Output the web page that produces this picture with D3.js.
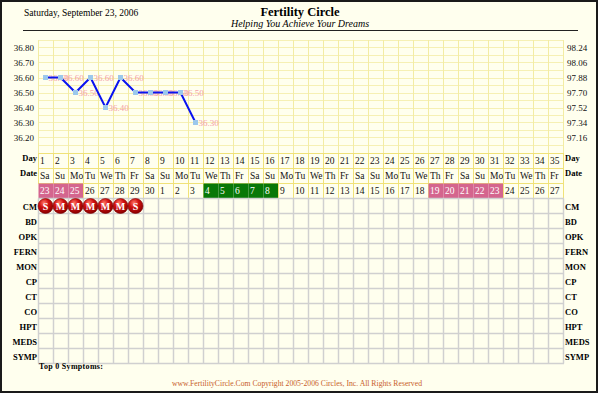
<!DOCTYPE html>
<html>
<head>
<meta charset="utf-8">
<script src="https://cdn.jsdelivr.net/npm/d3@7"></script>
<style>
  body { margin: 0; background: #ffffff; }
  svg text { font-family: "Liberation Serif", "DejaVu Serif", serif; }
</style>
</head>
<body>
<div class="container"></div>
<script>
// chart values
const dayNums = [1,2,3,4,5,6,7,8,9,10,11,12,13,14,15,16,17,18,19,20,21,22,23,24,25,26,27,28,29,30,31,32,33,34,35]
const weekdays = ["Sa","Su","Mo","Tu","We","Th","Fr","Sa","Su","Mo","Tu","We","Th","Fr","Sa","Su","Mo","Tu","We","Th","Fr","Sa","Su","Mo","Tu","We","Th","Fr","Sa","Su","Mo","Tu","We","Th","Fr"]
const dates = [23,24,25,26,27,28,29,30,1,2,3,4,5,6,7,8,9,10,11,12,13,14,15,16,17,18,19,20,21,22,23,24,25,26,27]
const temps = [36.60,36.60,36.50,36.60,36.40,36.60,36.50,36.50,36.50,36.50,36.30]
const tempTicks = [36.20,36.30,36.40,36.50,36.60,36.70,36.80]
const fahrTicks = ["97.16","97.34","97.52","97.70","97.88","98.06","98.24"]
const pinkDays = [1,2,3,27,28,29,30,31]
const greenDays = [12,13,14,15,16]
const rowLabels = ["CM","BD","OPK","FERN","MON","CP","CT","CO","HPT","MEDS","SYMP"]
const cmMarks = ["S","M","M","M","M","M","S"]

const width = 600
const height = 396
const left = 38
const right = 563

const svg = d3.select(".container").append("svg")
  .attr("width", width)
  .attr("height", height)

const defs = svg.append("defs")
const grad = defs.append("radialGradient").attr("id", "ball")
  .attr("cx", "40%").attr("cy", "30%").attr("r", "70%")
grad.append("stop").attr("offset", "0%").attr("stop-color", "#ff7a6a")
grad.append("stop").attr("offset", "45%").attr("stop-color", "#d01010")
grad.append("stop").attr("offset", "100%").attr("stop-color", "#8a0000")

// page frame
svg.append("rect").attr("x", 1).attr("y", 1).attr("width", 596).attr("height", 391)
  .attr("fill", "#ffffee").attr("stroke", "#1a1a1a").attr("stroke-width", 2)

// header
svg.append("text").attr("x", 24).attr("y", 16).attr("font-size", 9.5).text("Saturday, September 23, 2006")
svg.append("text").attr("x", 300).attr("y", 16).attr("text-anchor", "middle")
  .attr("font-size", 12.5).attr("font-weight", "bold").text("Fertility Circle")
svg.append("text").attr("x", 300).attr("y", 27).attr("text-anchor", "middle")
  .attr("font-size", 10).attr("font-style", "italic").text("Helping You Achieve Your Dreams")
svg.append("line").attr("x1", 23).attr("x2", 578).attr("y1", 30.5).attr("y2", 30.5)
  .attr("stroke", "#222").attr("stroke-width", 1)

// scales
const x = d3.scaleBand().domain(dayNums).range([left, right])
const y = d3.scaleLinear().domain([36.10, 36.85]).range([152.5, 40])

// temperature grid
const grid = svg.append("g")
const hLines = d3.range(36.10, 36.86, 0.05)
grid.selectAll(".h").data(hLines).enter().append("line")
  .attr("x1", left).attr("x2", right)
  .attr("y1", d => Math.round(y(d)) + 0.5).attr("y2", d => Math.round(y(d)) + 0.5)
  .attr("stroke", "#f6f0b4").attr("stroke-width", 1)
grid.selectAll(".v").data(dayNums.concat([36])).enter().append("line")
  .attr("x1", d => (d === 36 ? right : x(d)) + 0.5).attr("x2", d => (d === 36 ? right : x(d)) + 0.5)
  .attr("y1", 40).attr("y2", 153)
  .attr("stroke", "#f3eca4").attr("stroke-width", 1)

// axes
const axisL = svg.append("g").attr("transform", `translate(${left - 1},0)`)
  .call(d3.axisLeft(y).tickValues(tempTicks).tickSize(0).tickFormat(d => d.toFixed(2)))
const axisR = svg.append("g").attr("transform", `translate(${right + 1},0)`)
  .call(d3.axisRight(y).tickValues(tempTicks).tickSize(0).tickFormat((d, i) => fahrTicks[i]))
;[axisL, axisR].forEach(a => {
  a.select(".domain").remove()
  a.selectAll("text").attr("font-family", "Liberation Sans, Arial, sans-serif")
    .attr("font-size", 9).attr("fill", "#111")
})

// temp labels, line, points
const tempData = temps.map((t, i) => ({ day: dayNums[i], t: t }))
const cx = d => x(d.day) + x.bandwidth() / 2
svg.selectAll(".tlabel").data(tempData).enter().append("text")
  .attr("x", d => cx(d) + 3).attr("y", d => y(d.t) + 3.5)
  .attr("font-family", "Liberation Sans, Arial, sans-serif")
  .attr("font-size", 9).attr("fill", "#f4a0a8")
  .text(d => d.t.toFixed(2))

svg.append("path").datum(tempData)
  .attr("fill", "none").attr("stroke", "#0a14f0").attr("stroke-width", 2)
  .attr("d", d3.line().x(cx).y(d => y(d.t)))

svg.selectAll(".pt").data(tempData).enter().append("rect")
  .attr("x", d => cx(d) - 2.5).attr("y", d => y(d.t) - 2.5)
  .attr("width", 5).attr("height", 5).attr("fill", "#9cc8ec")

// Day / Date / date number rows
const rowTop = 153
const rh = 15
const infoRows = [dayNums, weekdays, dates]
infoRows.forEach((vals, r) => {
  const g = svg.append("g")
  g.selectAll("rect").data(dayNums).enter().append("rect")
    .attr("x", d => x(d) + 0.5).attr("y", rowTop + r * rh + 0.5)
    .attr("width", x.bandwidth()).attr("height", rh)
    .attr("fill", d => r === 2 && pinkDays.includes(d) ? "#d4658e" : r === 2 && greenDays.includes(d) ? "#087808" : "#ffffee")
    .attr("stroke", d => r === 2 && (pinkDays.includes(d) || greenDays.includes(d)) ? "none" : "#f0e278")
    .attr("stroke-width", 1)
  g.selectAll("text").data(dayNums).enter().append("text")
    .attr("x", d => x(d) + 2).attr("y", rowTop + r * rh + 11)
    .attr("font-size", 9.5)
    .attr("fill", d => r === 2 && (pinkDays.includes(d) || greenDays.includes(d)) ? "#ffffff" : "#111")
    .text((d, i) => vals[i])
})

const sideLabels = ["Day", "Date"]
sideLabels.forEach((s, r) => {
  svg.append("text").attr("x", left - 1).attr("y", rowTop + r * rh + 8).attr("text-anchor", "end")
    .attr("font-size", 8.5).attr("font-weight", "bold").text(s)
  svg.append("text").attr("x", right + 2).attr("y", rowTop + r * rh + 8)
    .attr("font-size", 8.5).attr("font-weight", "bold").text(s)
})

// symptom grid
const gridTop = rowTop + 3 * rh + 0.5
const rows = d3.scaleBand().domain(rowLabels).range([gridTop, gridTop + rowLabels.length * rh])
const sg = svg.append("g")
sg.selectAll(".vl").data(dayNums.concat([36])).enter().append("line")
  .attr("x1", d => (d === 36 ? right : x(d)) + 0.5).attr("x2", d => (d === 36 ? right : x(d)) + 0.5)
  .attr("y1", gridTop).attr("y2", gridTop + rowLabels.length * rh)
  .attr("stroke", "#d0d0d0").attr("stroke-width", 1.5)
sg.selectAll(".hl").data(rowLabels.concat(["end"])).enter().append("line")
  .attr("x1", left).attr("x2", right + 1)
  .attr("y1", d => d === "end" ? gridTop + rowLabels.length * rh : rows(d))
  .attr("y2", d => d === "end" ? gridTop + rowLabels.length * rh : rows(d))
  .attr("stroke", "#d0d0d0").attr("stroke-width", 1.5)

svg.selectAll(".rl").data(rowLabels).enter().append("text")
  .attr("x", left - 1).attr("y", d => rows(d) + 11).attr("text-anchor", "end")
  .attr("font-size", 8.5).attr("font-weight", "bold").text(d => d)
svg.selectAll(".rr").data(rowLabels).enter().append("text")
  .attr("x", right + 2).attr("y", d => rows(d) + 11)
  .attr("font-size", 8.5).attr("font-weight", "bold").text(d => d)

// CM marks
const cm = svg.selectAll(".cm").data(cmMarks).enter().append("g")
  .attr("transform", (d, i) => `translate(${x(dayNums[i]) + x.bandwidth() / 2},${rows("CM") + rh / 2})`)
cm.append("circle").attr("r", 7.5).attr("fill", "url(#ball)").attr("stroke", "#7a0000").attr("stroke-width", 0.6)
cm.append("text").attr("text-anchor", "middle").attr("y", 3.5)
  .attr("font-family", "Liberation Sans, Arial, sans-serif")
  .attr("font-size", 10).attr("font-weight", "bold").attr("fill", "#ffffff").text(d => d)

// footer
svg.append("text").attr("x", 39).attr("y", 369).attr("font-size", 8)
  .attr("font-weight", "bold").attr("letter-spacing", 0.3).text("Top 0 Symptoms:")
svg.append("text").attr("x", 297).attr("y", 386).attr("text-anchor", "middle")
  .attr("font-size", 7.7).attr("fill", "#c8602a")
  .text("www.FertilityCircle.Com Copyright 2005-2006 Circles, Inc. All Rights Reserved")
</script>
</body>
</html>
